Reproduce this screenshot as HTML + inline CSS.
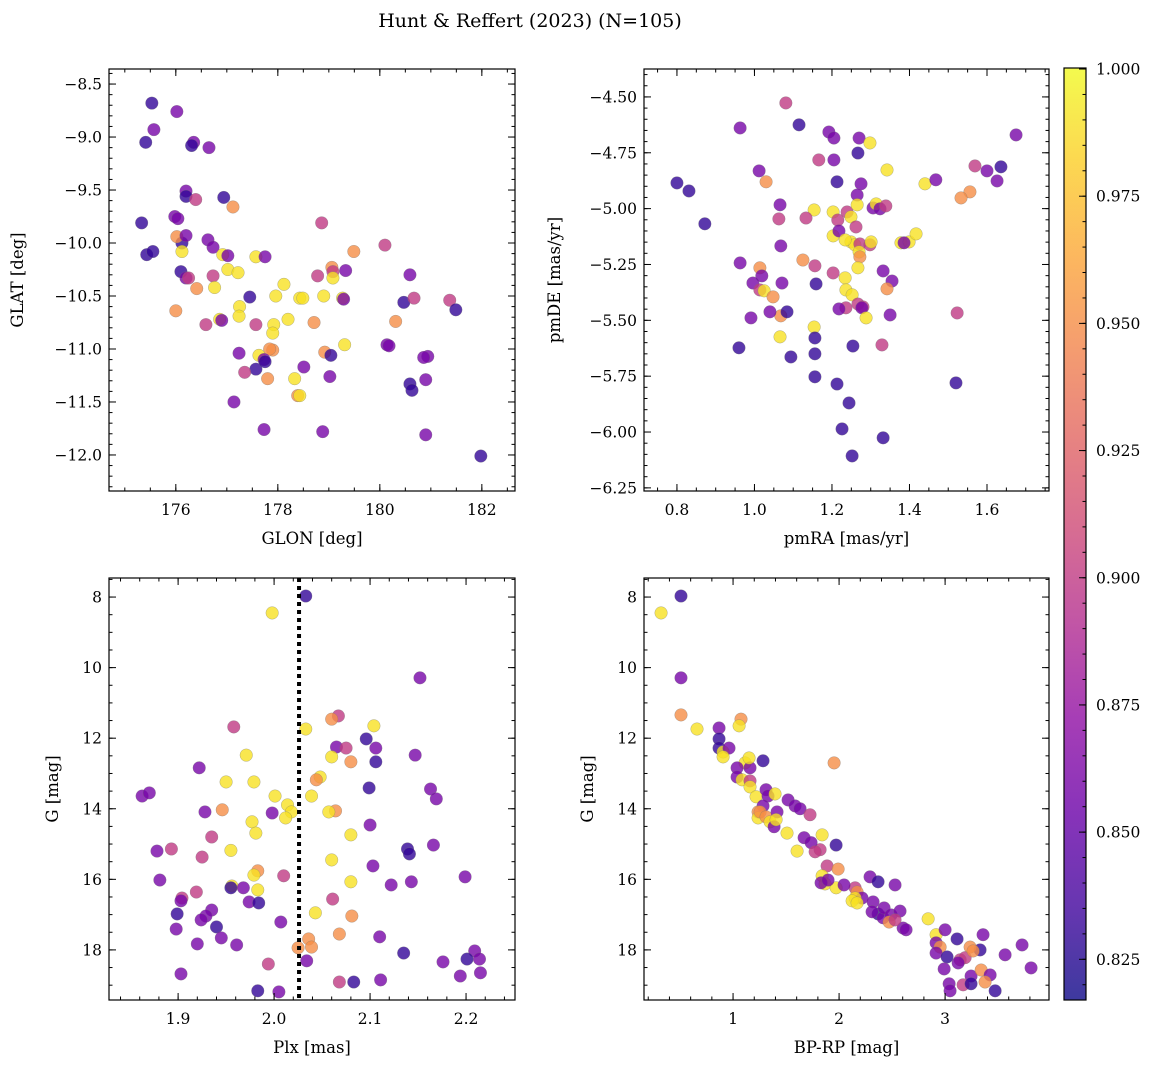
<!DOCTYPE html>
<html><head><meta charset="utf-8"><style>
html,body{margin:0;padding:0;background:#fff;}
svg{display:block;font-family:"DejaVu Serif","Liberation Serif",serif;}
</style></head><body>
<svg id="fig" width="1161" height="1068" viewBox="0 0 1161 1068">
<text x="530" y="27" text-anchor="middle" font-size="19">Hunt &amp; Reffert (2023) (N=105)</text>
</svg>
<script>
// [value_x, value_y, membership probability]
const skyPoints = [[175.53,-8.68,.83],[176.02,-8.76,.86],[175.57,-8.93,.86],[175.41,-9.05,.83],[176.35,-9.05,.86],[176.31,-9.08,.83],[176.65,-9.10,.86],[176.20,-9.51,.86],[176.20,-9.56,.83],[176.94,-9.57,.83],[176.39,-9.59,.90],[177.12,-9.66,.95],[175.33,-9.81,.83],[178.86,-9.81,.90],[175.98,-9.75,.86],[176.04,-9.77,.86],[176.12,-10.0,.83],[176.02,-9.94,.95],[176.20,-9.93,.86],[176.63,-9.97,.86],[176.73,-10.04,.86],[175.43,-10.11,.83],[175.55,-10.08,.83],[176.12,-10.08,.99],[176.92,-10.11,.99],[177.02,-10.12,.86],[177.57,-10.13,.99],[177.75,-10.13,.86],[179.49,-10.08,.95],[180.10,-10.02,.90],[176.10,-10.27,.83],[176.20,-10.33,.86],[176.25,-10.33,.90],[176.73,-10.31,.90],[177.02,-10.25,.99],[177.22,-10.28,.99],[179.06,-10.23,.95],[179.08,-10.27,.90],[179.33,-10.26,.86],[178.78,-10.31,.90],[180.59,-10.30,.86],[176.41,-10.43,.95],[176.76,-10.42,.99],[178.12,-10.39,.99],[177.96,-10.50,.99],[178.43,-10.52,.99],[178.49,-10.52,.99],[178.90,-10.50,.99],[179.08,-10.33,.99],[179.27,-10.52,.99],[179.29,-10.53,.86],[177.45,-10.51,.83],[176.00,-10.64,.95],[177.25,-10.60,.99],[177.24,-10.69,.99],[178.20,-10.72,.99],[176.86,-10.72,.99],[176.90,-10.73,.86],[176.59,-10.77,.90],[177.57,-10.77,.90],[177.92,-10.77,.99],[180.47,-10.56,.83],[180.67,-10.52,.90],[181.37,-10.54,.90],[181.49,-10.63,.83],[180.31,-10.74,.95],[178.71,-10.75,.95],[177.90,-10.85,.99],[177.24,-11.04,.86],[177.90,-11.01,.95],[177.84,-11.00,.95],[178.92,-11.03,.95],[179.04,-11.06,.83],[179.31,-10.96,.99],[180.14,-10.96,.86],[180.18,-10.97,.86],[180.94,-11.07,.86],[180.86,-11.08,.86],[177.63,-11.06,.99],[177.73,-11.10,.86],[177.57,-11.19,.83],[177.75,-11.12,.83],[177.35,-11.22,.90],[178.51,-11.17,.86],[179.02,-11.26,.86],[177.80,-11.28,.95],[178.33,-11.28,.99],[180.59,-11.33,.83],[180.63,-11.39,.83],[180.90,-11.29,.86],[178.39,-11.44,.95],[178.43,-11.44,.99],[177.14,-11.50,.86],[177.73,-11.76,.86],[178.88,-11.78,.86],[180.90,-11.81,.86],[181.98,-12.01,.83]];
const pmPoints = [[1.081,-4.527,.90],[.963,-4.639,.86],[1.115,-4.625,.83],[1.192,-4.657,.86],[1.205,-4.684,.86],[1.27,-4.684,.86],[1.298,-4.706,.99],[1.267,-4.751,.83],[1.166,-4.782,.90],[1.205,-4.782,.86],[1.569,-4.809,.90],[1.6,-4.831,.86],[1.626,-4.876,.86],[1.636,-4.813,.83],[1.675,-4.67,.86],[1.342,-4.827,.99],[1.012,-4.831,.86],[1.03,-4.88,.95],[.80,-4.885,.83],[.831,-4.921,.83],[1.213,-4.88,.83],[1.275,-4.889,.86],[1.44,-4.889,.99],[1.468,-4.871,.86],[1.556,-4.925,.95],[1.533,-4.952,.95],[1.265,-4.939,.86],[.872,-5.068,.83],[1.066,-4.983,.86],[1.154,-5.006,.99],[1.203,-5.015,.99],[1.239,-5.015,.90],[1.265,-4.983,.99],[1.249,-5.037,.99],[1.306,-4.997,.86],[1.314,-4.979,.99],[1.324,-5.001,.86],[1.339,-4.988,.90],[1.063,-5.046,.90],[1.133,-5.042,.90],[1.215,-5.051,.90],[1.262,-5.082,.90],[1.203,-5.122,.99],[1.218,-5.1,.86],[1.249,-5.149,.99],[1.259,-5.162,.99],[1.272,-5.158,.90],[1.298,-5.162,.90],[1.301,-5.149,.99],[1.234,-5.14,.99],[1.378,-5.153,.99],[1.399,-5.149,.99],[1.417,-5.113,.99],[1.386,-5.153,.86],[1.068,-5.167,.86],[.963,-5.243,.86],[1.27,-5.194,.99],[1.272,-5.216,.95],[1.267,-5.265,.99],[1.125,-5.23,.95],[1.156,-5.256,.90],[1.014,-5.265,.95],[1.019,-5.301,.86],[.996,-5.333,.86],[1.071,-5.333,.86],[1.203,-5.288,.90],[1.159,-5.337,.83],[1.234,-5.31,.99],[1.332,-5.279,.86],[1.355,-5.324,.86],[1.342,-5.359,.95],[1.014,-5.364,.90],[1.025,-5.368,.99],[1.048,-5.395,.95],[1.236,-5.364,.99],[1.252,-5.386,.99],[1.267,-5.427,.90],[1.28,-5.44,.90],[1.236,-5.444,.90],[1.218,-5.449,.86],[1.068,-5.48,.95],[1.084,-5.462,.83],[.991,-5.489,.86],[1.04,-5.462,.86],[1.277,-5.444,.86],[1.288,-5.489,.99],[1.35,-5.476,.86],[1.523,-5.467,.90],[1.154,-5.53,.99],[1.066,-5.574,.99],[1.156,-5.579,.83],[.96,-5.623,.83],[1.094,-5.664,.83],[1.156,-5.65,.83],[1.254,-5.615,.83],[1.329,-5.61,.90],[1.156,-5.753,.83],[1.213,-5.785,.83],[1.52,-5.78,.83],[1.244,-5.87,.83],[1.226,-5.986,.83],[1.332,-6.026,.83],[1.252,-6.107,.83]];
const plxPoints = [[2.033,7.97,.83],[1.998,8.45,.99],[2.152,10.29,.86],[2.067,11.37,.90],[2.06,11.46,.95],[2.033,11.74,.99],[2.104,11.65,.99],[1.958,11.68,.90],[1.971,12.48,.99],[2.065,12.25,.86],[2.075,12.28,.90],[2.08,12.67,.95],[2.106,12.28,.86],[2.096,12.02,.83],[2.106,12.67,.83],[2.147,12.48,.86],[1.922,12.84,.86],[2.06,12.53,.99],[2.048,13.10,.99],[2.044,13.18,.95],[1.95,13.24,.99],[1.979,13.24,.99],[2.039,13.64,.99],[2.001,13.64,.99],[2.099,13.41,.83],[2.163,13.44,.86],[2.169,13.72,.86],[1.8625,13.64,.86],[1.87,13.55,.86],[1.946,14.03,.95],[1.928,14.09,.86],[2.014,13.89,.99],[2.018,14.09,.99],[2.012,14.26,.99],[1.977,14.37,.99],[1.981,14.69,.99],[1.998,14.12,.86],[2.064,14.06,.95],[2.057,14.09,.99],[2.08,14.74,.99],[2.1,14.46,.86],[1.935,14.80,.90],[1.955,15.18,.99],[2.139,15.14,.83],[2.141,15.28,.83],[2.166,15.03,.86],[1.893,15.14,.90],[1.878,15.20,.86],[2.06,15.45,.99],[1.925,15.37,.90],[1.983,15.76,.95],[1.979,15.88,.99],[2.103,15.62,.86],[1.956,16.19,.99],[1.983,16.30,.99],[1.968,16.24,.86],[1.881,16.02,.86],[2.08,16.07,.99],[2.199,15.93,.86],[2.01,15.90,.90],[2.122,16.16,.86],[2.143,16.07,.86],[1.919,16.36,.90],[1.904,16.53,.90],[1.903,16.61,.86],[1.955,16.24,.83],[2.061,16.56,.90],[1.974,16.64,.86],[1.984,16.67,.83],[2.043,16.95,.99],[1.935,16.87,.86],[1.929,17.04,.86],[1.899,16.98,.83],[1.924,17.15,.86],[2.007,17.21,.86],[2.081,17.04,.95],[1.94,17.35,.83],[1.898,17.41,.86],[1.92,17.83,.86],[1.945,17.66,.86],[1.961,17.86,.86],[2.036,17.69,.95],[2.068,17.55,.95],[2.11,17.63,.86],[2.025,17.94,.95],[2.039,17.92,.95],[2.034,18.31,.86],[2.209,18.03,.86],[2.201,18.26,.83],[2.214,18.26,.86],[2.135,18.09,.83],[2.176,18.34,.86],[1.994,18.40,.90],[1.903,18.68,.86],[2.194,18.74,.86],[2.215,18.65,.86],[2.068,18.91,.90],[2.111,18.85,.86],[2.083,18.91,.83],[1.983,19.16,.83],[2.005,19.19,.86]];
const cmdPoints = [[0.321,8.45,.99],[0.509,7.97,.83],[0.509,10.29,.86],[0.509,11.34,.95],[0.66,11.74,.99],[0.868,11.71,.86],[0.868,12.02,.83],[0.868,12.28,.83],[0.906,12.39,.99],[0.962,12.28,.86],[0.906,12.53,.99],[1.113,12.70,.99],[1.038,12.84,.86],[1.038,13.10,.86],[1.16,12.84,.86],[1.151,12.56,.99],[1.075,11.46,.95],[1.057,11.65,.99],[1.283,12.64,.83],[1.085,13.18,.99],[1.16,13.21,.90],[1.16,13.38,.99],[1.217,13.66,.99],[1.311,13.46,.86],[1.33,13.64,.86],[1.396,13.58,.99],[1.283,13.92,.86],[1.236,14.09,.95],[1.236,14.26,.99],[1.255,14.09,.95],[1.311,14.23,.95],[1.415,14.09,.86],[1.349,14.37,.99],[1.387,14.51,.86],[1.406,14.31,.99],[1.519,13.75,.86],[1.585,13.92,.86],[1.632,14.00,.86],[1.726,14.17,.90],[1.509,14.69,.99],[1.67,14.82,.86],[1.953,12.70,.95],[1.84,14.74,.99],[1.821,15.16,.90],[1.972,15.03,.83],[1.736,14.96,.86],[1.604,15.20,.99],[1.887,15.62,.90],[1.774,15.22,.90],[1.991,15.71,.95],[1.84,15.90,.99],[1.868,16.13,.99],[1.972,16.24,.99],[2.151,16.24,.90],[2.17,16.36,.95],[1.83,16.10,.86],[1.896,16.02,.86],[2.047,16.16,.86],[2.217,16.53,.86],[2.321,16.64,.86],[2.292,15.93,.86],[2.368,16.07,.83],[2.528,16.16,.86],[2.151,16.53,.99],[2.368,16.98,.83],[2.415,17.09,.86],[2.425,16.81,.86],[2.491,17.01,.86],[2.472,17.21,.95],[2.575,16.90,.86],[2.604,17.38,.86],[2.528,17.15,.90],[2.311,16.92,.86],[2.123,16.61,.99],[2.17,16.67,.99],[2.632,17.43,.86],[2.84,17.12,.99],[2.915,17.57,.99],[2.915,17.80,.86],[2.953,17.92,.95],[3.0,17.43,.86],[2.915,18.09,.86],[3.019,18.20,.83],[3.113,17.69,.83],[3.142,18.28,.90],[3.189,18.22,.90],[3.33,18.0,.83],[3.236,17.92,.95],[3.264,18.03,.95],[3.358,17.57,.86],[3.123,18.37,.86],[2.991,18.54,.86],[3.245,18.74,.86],[3.34,18.57,.95],[3.425,18.71,.86],[3.566,18.14,.86],[3.726,17.86,.86],[3.811,18.51,.86],[3.038,18.96,.86],[3.17,18.99,.90],[3.377,18.91,.95],[3.245,18.96,.83],[3.047,19.16,.86],[3.472,19.16,.83]];
const clusterParallax = [2.026];
const colorRange = [0.817, 1.0002];
const colorbarTicks = [0.825, 0.850, 0.875, 0.900, 0.925, 0.950, 0.975, 1.000];

const NS = 'http://www.w3.org/2000/svg';
const svg = document.getElementById('fig');
const plasma = [[13,8,135],[65,4,157],[106,0,168],[143,13,164],[177,42,144],[204,71,120],[225,100,98],[242,132,75],[252,166,54],[252,206,37],[240,249,33]];
function cmap(v){
  let t=(v-colorRange[0])/(colorRange[1]-colorRange[0]); t=Math.max(0,Math.min(1,t));
  const f=t*10, i=Math.min(9,Math.floor(f)), r=f-i, a=plasma[i], b=plasma[i+1];
  return 'rgb('+a.map((c,k)=>Math.round(c+(b[k]-c)*r)).join(',')+')';
}
function mk(tag, attrs, parent){
  const e=document.createElementNS(NS,tag);
  for(const k in attrs) e.setAttribute(k, attrs[k]);
  (parent||svg).appendChild(e); return e;
}
function fmt(v,d){ return (v<0?'\u2212':'')+Math.abs(v).toFixed(d); }

function panel(c){
  const g=mk('g',{});
  
  
  const sx=v=>c.box[0]+(v-c.xd[0])/(c.xd[1]-c.xd[0])*(c.box[2]-c.box[0]);
  const sy=v=>c.box[1]+(v-c.yd[0])/(c.yd[1]-c.yd[0])*(c.box[3]-c.box[1]);
  // points
  c.pts.forEach(p=>{
    const ci=mk('circle',{cx:sx(p[0]),cy:sy(p[1]),r:6.3,fill:cmap(p[2]),'fill-opacity':0.8,stroke:'#777','stroke-width':0.4,'stroke-opacity':0.7},g);
    
    
  });
  if(c.vline){ c.vline.forEach(v=>{
    const l=mk('line',{x1:sx(v),x2:sx(v),y1:c.box[1],y2:c.box[3],stroke:'#000','stroke-width':4,'stroke-dasharray':'4,4'},g);
    
    
  });}
  // frame
  const fr=mk('rect',{x:c.box[0],y:c.box[1],width:c.box[2]-c.box[0],height:c.box[3]-c.box[1],fill:'none',stroke:'#000','stroke-width':1.2},g);
  
  
  const lo=(a)=>Math.min(a[0],a[1]), hi=(a)=>Math.max(a[0],a[1]);
  // x ticks
  const xminor=[], xmajor=[];
  for(let v=Math.ceil(lo(c.xd)/c.xm-1e-9)*c.xm; v<=hi(c.xd)+1e-9; v+=c.xm) xminor.push(v);
  for(let v=Math.ceil(lo(c.xd)/c.xM-1e-9)*c.xM; v<=hi(c.xd)+1e-9; v+=c.xM) xmajor.push(v);
  xminor.forEach(v=>{const x=sx(v);
    mk('line',{x1:x,x2:x,y1:c.box[3],y2:c.box[3]-3.5,stroke:'#000','stroke-width':1},g);
    mk('line',{x1:x,x2:x,y1:c.box[1],y2:c.box[1]+3.5,stroke:'#000','stroke-width':1},g);});
  xmajor.forEach(v=>{const x=sx(v);
    mk('line',{x1:x,x2:x,y1:c.box[3],y2:c.box[3]-7,stroke:'#000','stroke-width':1},g);
    mk('line',{x1:x,x2:x,y1:c.box[1],y2:c.box[1]+7,stroke:'#000','stroke-width':1},g);
    const t=mk('text',{x:x,y:c.box[3]+24,'text-anchor':'middle','font-size':15.5},g);
    t.textContent=fmt(v,c.xdec);
    
    });
  const yminor=[], ymajor=[];
  for(let v=Math.ceil(lo(c.yd)/c.ym-1e-9)*c.ym; v<=hi(c.yd)+1e-9; v+=c.ym) yminor.push(v);
  for(let v=Math.ceil(lo(c.yd)/c.yM-1e-9)*c.yM; v<=hi(c.yd)+1e-9; v+=c.yM) ymajor.push(v);
  yminor.forEach(v=>{const y=sy(v);
    mk('line',{x1:c.box[0],x2:c.box[0]+3.5,y1:y,y2:y,stroke:'#000','stroke-width':1},g);
    mk('line',{x1:c.box[2],x2:c.box[2]-3.5,y1:y,y2:y,stroke:'#000','stroke-width':1},g);});
  ymajor.forEach(v=>{const y=sy(v);
    mk('line',{x1:c.box[0],x2:c.box[0]+7,y1:y,y2:y,stroke:'#000','stroke-width':1},g);
    mk('line',{x1:c.box[2],x2:c.box[2]-7,y1:y,y2:y,stroke:'#000','stroke-width':1},g);
    const t=mk('text',{x:c.box[0]-7,y:y+5.5,'text-anchor':'end','font-size':15.5},g);
    t.textContent=fmt(v,c.ydec);
    
    });
  const xl=mk('text',{x:(c.box[0]+c.box[2])/2,y:c.box[3]+53,'text-anchor':'middle','font-size':16.5},g);
  xl.textContent=c.xlabel;
  
  
  const yl=mk('text',{x:0,y:0,'text-anchor':'middle','font-size':16.5,transform:'translate('+c.ylx+','+((c.box[1]+c.box[3])/2)+') rotate(-90)'},g);
  yl.textContent=c.ylabel;
  
  
}

panel({name:'sky-position-panel',box:[109,69,515,491],xd:[174.69,182.65],yd:[-8.358,-12.34],pts:skyPoints,xM:2,xm:0.5,yM:0.5,ym:0.1,xdec:0,ydec:1,xlabel:'GLON [deg]',ylabel:'GLAT [deg]',ylx:23});
panel({name:'proper-motion-panel',box:[644,69,1049,491],xd:[0.715,1.760],yd:[-4.375,-6.264],pts:pmPoints,xM:0.2,xm:0.05,yM:0.25,ym:0.05,xdec:1,ydec:2,xlabel:'pmRA [mas/yr]',ylabel:'pmDE [mas/yr]',ylx:560});
panel({name:'parallax-magnitude-panel',box:[109,578,515,1000],xd:[1.828,2.251],yd:[7.46,19.42],pts:plxPoints,vline:clusterParallax,xM:0.1,xm:0.02,yM:2,ym:0.5,xdec:1,ydec:0,xlabel:'Plx [mas]',ylabel:'G [mag]',ylx:58});
panel({name:'color-magnitude-panel',box:[644,578,1049,1000],xd:[0.16,3.98],yd:[7.46,19.42],pts:cmdPoints,xM:1,xm:0.2,yM:2,ym:0.5,xdec:0,ydec:0,xlabel:'BP-RP [mag]',ylabel:'G [mag]',ylx:593});

// colorbar
(function(){
  const x0=1064,x1=1086,y0=68,y1=1000;
  const defs=mk('defs',{});
  const lg=mk('linearGradient',{id:'plasmaGrad',x1:0,y1:1,x2:0,y2:0},defs);
  plasma.forEach((c,i)=>mk('stop',{offset:(i*10)+'%','stop-color':'rgb('+c.join(',')+')'},lg));
  const g=mk('g',{});
  
  
  mk('rect',{x:x0,y:y0,width:x1-x0,height:y1-y0,fill:'url(#plasmaGrad)','fill-opacity':0.8},g);
  mk('rect',{x:x0,y:y0,width:x1-x0,height:y1-y0,fill:'none',stroke:'#000','stroke-width':1.2},g);
  const sy=v=>y1-(v-colorRange[0])/(colorRange[1]-colorRange[0])*(y1-y0);
  for(let v=0.82; v<=1.0001; v+=0.005){ const y=sy(v); mk('line',{x1:x1,x2:x1-3.5,y1:y,y2:y,stroke:'#000','stroke-width':1},g); }
  colorbarTicks.forEach(v=>{const y=sy(v);
    mk('line',{x1:x1,x2:x1-7,y1:y,y2:y,stroke:'#000','stroke-width':1},g);
    const t=mk('text',{x:x1+10,y:y+5.5,'font-size':15.5},g);
    t.textContent=v.toFixed(3);
    
    });
})();
</script>
</body></html>
